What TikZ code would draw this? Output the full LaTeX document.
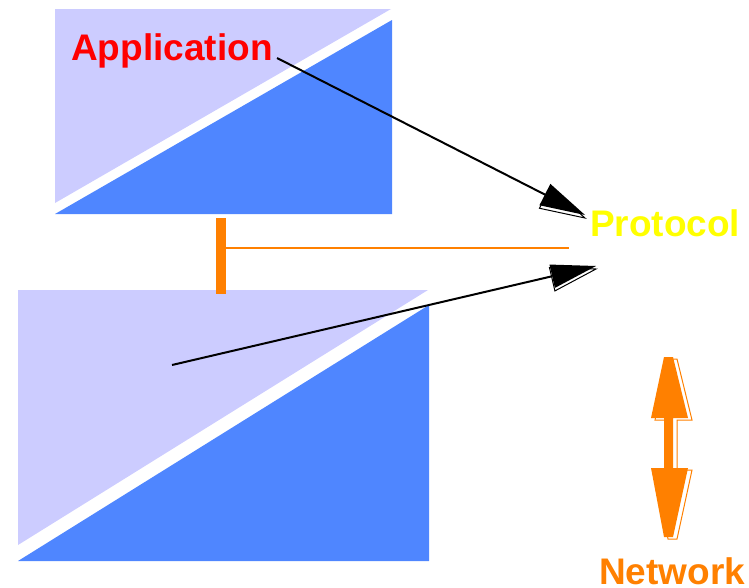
\documentclass[tikz,border=0pt]{standalone}
\usepackage{fontspec}
\setmainfont{Liberation Sans}
\usetikzlibrary{calc}
\definecolor{lightblue}{HTML}{CCCCFF}
\definecolor{darkblue}{HTML}{4F86FF}
\definecolor{orng}{HTML}{FF8000}
\definecolor{yel}{HTML}{FFFF00}
\newcommand\myhead[3]{%
  \coordinate (hb) at ($(#1)!45pt!(#2)$);
  \begin{scope}[transform canvas={yshift=-3pt}]
    \filldraw[fill=white, draw=#3, line width=1pt] (#1) -- ($(hb)!12pt!90:(#1)$) -- ($(hb)!12pt!-90:(#1)$) -- cycle;
  \end{scope}
  \fill[#3] (#1) -- ($(hb)!12pt!90:(#1)$) -- ($(hb)!12pt!-90:(#1)$) -- cycle;}
\tikzset{
  lbl/.style={inner sep=0pt, anchor=base west, font=\bfseries\fontsize{37}{37}\selectfont},
  conn/.style={line width=2pt, black},
}
\begin{document}
\begin{tikzpicture}[x=1pt, y=-1pt]
\useasboundingbox (0,0) rectangle (749,587);
% top box
\fill[lightblue] (55,9) -- (391,9) -- (55,203) -- cycle;
\fill[darkblue] (392,20) -- (392,214) -- (55,214) -- cycle;
% bottom box
\fill[lightblue] (18,290) -- (428,290) -- (18,545) -- cycle;
\fill[darkblue] (429,305) -- (429,561) -- (18,561) -- cycle;
% orange bar and line
\fill[orng] (216,218) rectangle (226,294);
\coordinate (barmid) at (226,248);
\coordinate (lineend) at (569,248);
\draw[orng, line width=2pt] (barmid) -- (lineend);
% labels
\node[lbl, text=red] (app) at (71,60) {Application};
\node[lbl, text=yel] (proto) at (590,236) {Protocol};
\node[lbl, text=orng] (net) at (599,584) {Network};
% arrows
\coordinate (a1) at (277,58);
\coordinate (t1) at (585,215);
\coordinate (a2) at (172,365);
\coordinate (t2) at (596,266);
\draw[conn] (a1) -- ($(t1)!40pt!(a1)$);
\myhead{t1}{a1}{black}
\draw[conn] (a2) -- ($(t2)!40pt!(a2)$);
\myhead{t2}{a2}{black}
% double orange arrow
\begin{scope}[transform canvas={xshift=4pt, yshift=-2pt}]
\filldraw[fill=white, draw=orng, line width=1pt] (664,357) -- (673,357) -- (688,418) -- (673,418) -- (673,468) -- (688,468) -- (673,537) -- (664,537) -- (651,468) -- (664,468) -- (664,418) -- (651,418) -- cycle;
\end{scope}
\fill[orng] (664,357) -- (673,357) -- (688,418) -- (673,418) -- (673,468) -- (688,468) -- (673,537) -- (664,537) -- (651,468) -- (664,468) -- (664,418) -- (651,418) -- cycle;
\end{tikzpicture}
\end{document}
